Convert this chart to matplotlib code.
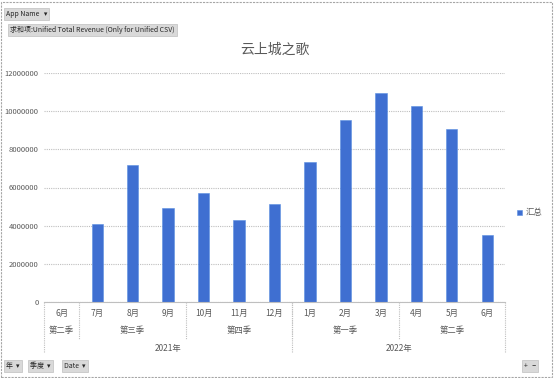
import matplotlib.pyplot as plt
import matplotlib.transforms as mtransforms
from matplotlib.patches import Rectangle

plt.rcParams['font.family'] = ['Noto Sans CJK SC', 'DejaVu Sans']

# data
months = ['6月', '7月', '8月', '9月', '10月', '11月', '12月',
          '1月', '2月', '3月', '4月', '5月', '6月']
revenue = [0, 4090000, 7180000, 4930000, 5710000, 4300000, 5140000,
           7340000, 9540000, 10950000, 10270000, 9070000, 3510000]
quarters = ['第二季', '第三季', '第四季', '第一季', '第二季']
quarter_spans = [(0, 0), (1, 3), (4, 6), (7, 9), (10, 12)]
years = ['2021年', '2022年']
year_spans = [(0, 6), (7, 12)]
yticks = [0, 2000000, 4000000, 6000000, 8000000, 10000000, 12000000]

W, H = 554, 378
fig = plt.figure(figsize=(W / 100, H / 100), dpi=100)
ax = fig.add_axes([44 / W, 1 - 302 / H, 461 / W, 229 / H])

bar_color = '#3F6FD1'
text_gray = '#595959'
grid_gray = '#BFBFBF'

x = list(range(len(months)))
bars = ax.bar(x, revenue, width=0.32, color=bar_color, edgecolor='#5B8FE0', linewidth=0.4)
ax.set_xlim(-0.5, len(months) - 0.5)
ax.set_ylim(0, 12000000)
ax.set_yticks(yticks)
ax.set_yticklabels([str(v) for v in yticks], fontsize=5.5, color=text_gray)
ax.yaxis.grid(True, linestyle=(0, (1, 1)), color=grid_gray, linewidth=0.8)
ax.set_axisbelow(True)
ax.tick_params(axis='y', length=0, pad=4)
ax.tick_params(axis='x', length=0, labelbottom=False)
for s in ['top', 'right', 'left']:
    ax.spines[s].set_visible(False)
ax.spines['bottom'].set_linestyle((0, (1, 1)))
ax.spines['bottom'].set_color(grid_gray)

ax.set_title('云上城之歌', fontsize=10, color=text_gray, pad=14)

# category table under the axis
trans = mtransforms.blended_transform_factory(ax.transData, fig.transFigure)
def fy(py):
    return 1 - py / H

for i, m in enumerate(months):
    ax.text(i, fy(313), m, transform=trans, ha='center', va='center',
            fontsize=6, color=text_gray)
for q, (a, b) in zip(quarters, quarter_spans):
    ax.text((a + b) / 2, fy(330), q, transform=trans, ha='center', va='center',
            fontsize=6, color=text_gray)
for yl, (a, b) in zip(years, year_spans):
    ax.text((a + b) / 2, fy(348), yl, transform=trans, ha='center', va='center',
            fontsize=6, color=text_gray)

line_kw = dict(transform=trans, color=grid_gray, linestyle=(0, (1, 1)),
               linewidth=0.8, clip_on=False)
for a, b in quarter_spans[:-1]:
    ax.plot([b + 0.5, b + 0.5], [fy(302), fy(339)], **line_kw)
for a, b in year_spans:
    ax.plot([a - 0.5, a - 0.5], [fy(302), fy(353)], **line_kw)
ax.plot([len(months) - 0.5] * 2, [fy(302), fy(353)], **line_kw)

# legend
ax.legend([bars], ['汇总'], loc='center left', bbox_to_anchor=(1.01, 0.39), frameon=False,
          fontsize=6, handlelength=0.6, handleheight=0.6, labelcolor=text_gray,
          handletextpad=0.4)

# outer dashed border
fig.patches.append(Rectangle((0.002, 0.003), 0.994, 0.993, transform=fig.transFigure,
                             fill=False, edgecolor='#A6A6A6', linestyle=(0, (2, 1)),
                             linewidth=0.8))

# pivot field buttons
btn = dict(boxstyle='square,pad=0.3', facecolor='#D9D9D9', edgecolor='#BFBFBF', linewidth=0.5)
fig.text(6 / W, fy(14), 'App Name   ▾', fontsize=5, color='#262626', va='center', bbox=btn)
fig.text(10 / W, fy(30), '求和项:Unified Total Revenue (Only for Unified CSV)', fontsize=5,
         color='#262626', va='center', bbox=btn)
fig.text(6 / W, fy(366), '年  ▾', fontsize=5, color='#262626', va='center', bbox=btn)
fig.text(30 / W, fy(366), '季度  ▾', fontsize=5, color='#262626', va='center', bbox=btn)
fig.text(64 / W, fy(366), 'Date  ▾', fontsize=5, color='#262626', va='center', bbox=btn)
fig.text(524 / W, fy(366), '+   −', fontsize=5, color='#262626', va='center', bbox=btn)

fig.savefig('out.png', dpi=100)
